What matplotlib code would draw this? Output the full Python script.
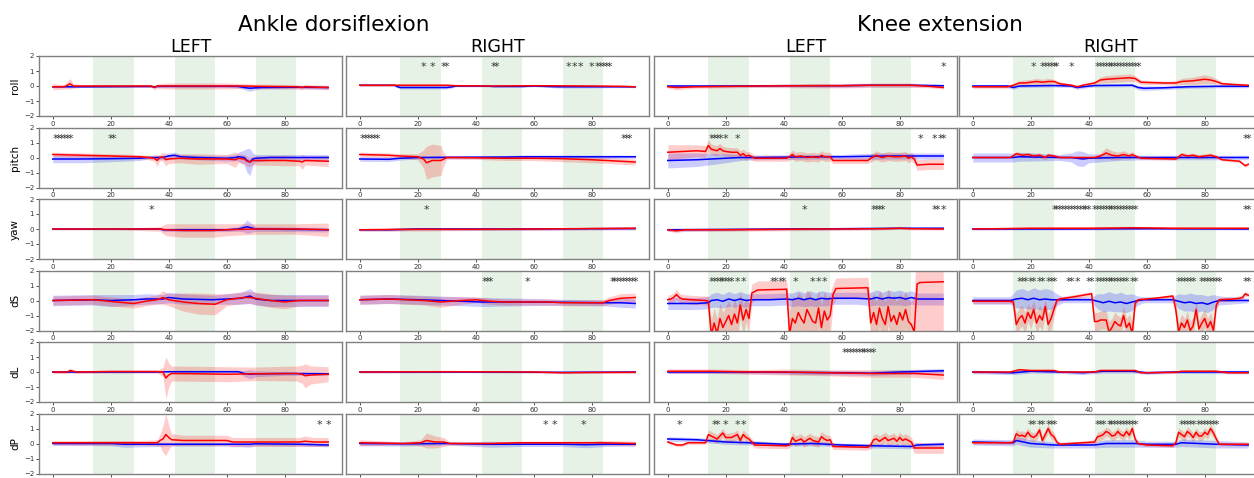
import numpy as np
import matplotlib
matplotlib.use('Agg')
import matplotlib.pyplot as plt

# each series: (frame, mean, sd)
AD_L_ROLL_BLUE = [(0, -0.05, 0.05), (10, -0.05, 0.05), (30, -0.03, 0.05), (34, -0.03, 0.05), (35, -0.06, 0.06),
                  (36, -0.03, 0.05), (40, -0.02, 0.08), (60, -0.02, 0.08), (64, -0.03, 0.1), (66, -0.1, 0.15),
                  (68, -0.15, 0.2), (70, -0.12, 0.12), (72, -0.1, 0.1), (84, -0.08, 0.1), (95, -0.1, 0.1)]
AD_L_ROLL_RED = [(0, -0.05, 0.2), (4, -0.05, 0.15), (5, 0.05, 0.25), (6, 0.15, 0.35), (7, 0.0, 0.15), (10, 0.0, 0.1),
                 (30, 0.0, 0.1), (34, 0.0, 0.1), (35, -0.1, 0.15), (36, 0.0, 0.15), (40, 0.0, 0.2), (60, 0.0, 0.2),
                 (66, 0.0, 0.15), (70, -0.02, 0.15), (84, -0.05, 0.15), (86, -0.1, 0.15), (87, -0.05, 0.15),
                 (95, -0.1, 0.15)]
AD_L_ROLL_STARS = []

AD_R_ROLL_BLUE = [(0, 0.05, 0.06), (12, 0.05, 0.06), (13, -0.05, 0.08), (14, -0.1, 0.1), (30, -0.1, 0.1),
                  (32, -0.05, 0.08), (33, 0.0, 0.05), (44, 0.0, 0.05), (46, -0.03, 0.06), (56, -0.03, 0.06),
                  (60, 0.0, 0.05), (68, -0.05, 0.08), (80, -0.05, 0.08), (86, -0.05, 0.06), (95, -0.05, 0.06)]
AD_R_ROLL_RED = [(0, 0.05, 0.08), (20, 0.05, 0.08), (30, 0.05, 0.08), (33, 0.02, 0.06), (46, 0.0, 0.05),
                 (60, 0.02, 0.05), (80, 0.0, 0.05), (90, -0.02, 0.06), (95, -0.05, 0.06)]
AD_R_ROLL_STARS = [22, 25, 29, 30, 46, 47, 72, 74, 76, 80, 82, 83, 84, 85, 86]

KE_L_ROLL_BLUE = [(0, 0.0, 0.08), (20, 0.0, 0.08), (40, 0.02, 0.08), (60, 0.02, 0.1), (70, 0.05, 0.1),
                  (84, 0.05, 0.1), (95, 0.02, 0.08)]
KE_L_ROLL_RED = [(0, -0.05, 0.1), (3, -0.1, 0.15), (10, -0.05, 0.1), (30, 0.0, 0.1), (50, 0.02, 0.15),
                 (60, 0.02, 0.15), (70, 0.05, 0.15), (84, 0.05, 0.15), (90, -0.02, 0.1), (95, -0.1, 0.1)]
KE_L_ROLL_STARS = [95]

KE_R_ROLL_BLUE = [(0, 0.0, 0.1), (12, 0.0, 0.1), (14, -0.1, 0.12), (16, 0.0, 0.1), (28, 0.03, 0.1), (34, 0.0, 0.1),
                  (36, -0.1, 0.12), (38, -0.05, 0.1), (42, 0.03, 0.1), (55, 0.05, 0.1), (57, -0.1, 0.15),
                  (59, -0.15, 0.15), (66, -0.12, 0.12), (74, -0.05, 0.1), (84, -0.02, 0.1), (95, -0.02, 0.1)]
KE_R_ROLL_RED = [(0, -0.05, 0.1), (12, -0.05, 0.1), (14, 0.05, 0.12), (16, 0.2, 0.15), (18, 0.2, 0.2),
                 (20, 0.25, 0.2), (22, 0.3, 0.2), (24, 0.25, 0.2), (26, 0.3, 0.2), (28, 0.3, 0.15), (30, 0.15, 0.12),
                 (34, 0.05, 0.1), (36, -0.05, 0.1), (38, 0.05, 0.1), (42, 0.2, 0.12), (44, 0.4, 0.2),
                 (46, 0.45, 0.25), (50, 0.5, 0.25), (54, 0.55, 0.25), (56, 0.5, 0.2), (58, 0.25, 0.15),
                 (66, 0.2, 0.12), (70, 0.2, 0.15), (72, 0.3, 0.2), (76, 0.35, 0.25), (80, 0.45, 0.3),
                 (82, 0.4, 0.25), (84, 0.3, 0.2), (86, 0.15, 0.12), (90, 0.1, 0.1), (95, 0.05, 0.1)]
KE_R_ROLL_STARS = [21, 24, 25, 26, 27, 28, 29, 34, 43, 44, 45, 46, 47, 48, 49, 50, 51, 52, 53, 54, 55, 56, 57]

AD_L_PITCH_BLUE = [(0, -0.1, 0.25), (10, -0.1, 0.25), (20, -0.08, 0.2), (30, -0.05, 0.15), (33, 0.0, 0.1),
                   (38, 0.0, 0.15), (40, 0.1, 0.2), (42, 0.15, 0.2), (44, 0.05, 0.15), (50, 0.0, 0.15),
                   (60, -0.05, 0.2), (63, 0.0, 0.2), (64, 0.05, 0.3), (66, 0.0, 0.5), (67, -0.2, 0.8),
                   (68, -0.3, 0.9), (69, -0.1, 0.4), (70, -0.05, 0.25), (75, 0.0, 0.2), (95, 0.0, 0.2)]
AD_L_PITCH_RED = [(0, 0.2, 0.15), (10, 0.15, 0.15), (20, 0.1, 0.15), (30, 0.05, 0.15), (33, 0.0, 0.15),
                  (35, -0.05, 0.2), (36, -0.2, 0.4), (37, 0.0, 0.2), (38, 0.05, 0.3), (39, -0.15, 0.4),
                  (40, -0.1, 0.3), (44, -0.05, 0.3), (50, -0.1, 0.35), (60, -0.1, 0.3), (63, -0.15, 0.5),
                  (64, -0.05, 0.3), (66, -0.1, 0.3), (67, -0.25, 0.35), (68, -0.3, 0.3), (69, -0.2, 0.3),
                  (80, -0.2, 0.35), (85, -0.25, 0.3), (86, -0.3, 0.5), (87, -0.2, 0.3), (95, -0.25, 0.35)]
AD_L_PITCH_STARS = [1, 2, 3, 4, 5, 6, 20, 21]

AD_R_PITCH_BLUE = [(0, -0.1, 0.15), (10, -0.12, 0.15), (14, -0.05, 0.12), (20, 0.0, 0.1), (50, 0.03, 0.1),
                   (58, 0.05, 0.12), (95, 0.05, 0.1)]
AD_R_PITCH_RED = [(0, 0.2, 0.15), (10, 0.15, 0.15), (14, 0.1, 0.15), (20, 0.05, 0.2), (22, -0.1, 0.6),
                  (23, -0.35, 1.1), (25, -0.2, 1.1), (28, -0.2, 1.0), (29, -0.1, 0.4), (30, 0.0, 0.1),
                  (40, -0.02, 0.1), (50, -0.05, 0.15), (60, -0.05, 0.15), (70, -0.08, 0.2), (80, -0.15, 0.2),
                  (90, -0.25, 0.2), (95, -0.3, 0.2)]
AD_R_PITCH_STARS = [1, 2, 3, 4, 5, 6, 91, 92, 93]

KE_L_PITCH_BLUE = [(0, -0.2, 0.5), (10, -0.15, 0.45), (20, -0.05, 0.3), (25, 0.0, 0.2), (30, 0.0, 0.15),
                   (40, 0.02, 0.15), (50, 0.05, 0.15), (60, 0.05, 0.15), (70, 0.08, 0.2), (75, 0.1, 0.2),
                   (95, 0.1, 0.2)]
KE_L_PITCH_RED = [(0, 0.35, 0.5), (5, 0.4, 0.45), (10, 0.45, 0.4), (13, 0.4, 0.4), (14, 0.8, 0.4), (15, 0.55, 0.35),
                  (16, 0.5, 0.35), (17, 0.45, 0.35), (18, 0.6, 0.35), (19, 0.45, 0.3), (20, 0.4, 0.3),
                  (22, 0.35, 0.3), (24, 0.35, 0.3), (25, 0.15, 0.3), (26, 0.25, 0.3), (27, 0.1, 0.3),
                  (28, 0.15, 0.25), (30, -0.05, 0.2), (41, -0.05, 0.2), (42, 0.05, 0.25), (43, 0.2, 0.3),
                  (44, 0.05, 0.3), (46, 0.1, 0.3), (48, 0.0, 0.3), (50, 0.05, 0.3), (52, 0.0, 0.3), (53, 0.15, 0.3),
                  (54, 0.05, 0.3), (56, 0.05, 0.3), (57, -0.2, 0.2), (69, -0.2, 0.2), (70, -0.05, 0.25),
                  (72, 0.15, 0.3), (73, 0.05, 0.3), (74, 0.0, 0.3), (76, 0.1, 0.3), (78, 0.05, 0.3), (80, 0.05, 0.3),
                  (82, 0.1, 0.3), (83, -0.05, 0.3), (84, 0.05, 0.3), (85, -0.1, 0.3), (86, -0.5, 0.35),
                  (90, -0.45, 0.35), (95, -0.45, 0.35)]
KE_L_PITCH_STARS = [15, 16, 17, 18, 20, 24, 87, 92, 94, 95]

KE_R_PITCH_BLUE = [(0, 0.0, 0.3), (14, 0.0, 0.3), (16, 0.05, 0.3), (30, 0.0, 0.2), (34, 0.0, 0.3), (36, -0.05, 0.5),
                   (38, -0.1, 0.5), (40, -0.05, 0.3), (50, 0.0, 0.2), (60, 0.0, 0.15), (80, 0.0, 0.15),
                   (95, 0.0, 0.15)]
KE_R_PITCH_RED = [(0, 0.0, 0.05), (13, 0.0, 0.05), (15, 0.25, 0.15), (17, 0.15, 0.15), (19, 0.2, 0.15),
                  (21, 0.1, 0.15), (23, 0.15, 0.15), (25, 0.0, 0.15), (26, 0.15, 0.15), (28, 0.1, 0.12),
                  (30, 0.0, 0.08), (42, 0.0, 0.08), (44, 0.1, 0.2), (46, 0.3, 0.35), (48, 0.15, 0.3),
                  (50, 0.1, 0.25), (52, 0.2, 0.25), (54, 0.1, 0.2), (55, 0.2, 0.2), (56, 0.1, 0.15),
                  (58, -0.05, 0.08), (70, -0.1, 0.08), (72, 0.2, 0.15), (74, 0.1, 0.15), (76, 0.15, 0.15),
                  (78, 0.05, 0.15), (80, 0.1, 0.15), (82, 0.15, 0.15), (84, 0.05, 0.1), (86, -0.15, 0.08),
                  (92, -0.25, 0.08), (94, -0.55, 0.1), (95, -0.45, 0.1)]
KE_R_PITCH_STARS = [94, 95]

AD_L_YAW_BLUE = [(0, 0.0, 0.05), (30, 0.0, 0.05), (37, 0.0, 0.05), (38, -0.05, 0.1), (40, -0.05, 0.12),
                 (60, -0.05, 0.12), (64, 0.0, 0.15), (66, 0.1, 0.3), (67, 0.15, 0.45), (68, 0.1, 0.35),
                 (70, 0.0, 0.15), (95, -0.05, 0.15)]
AD_L_YAW_RED = [(0, 0.0, 0.05), (20, 0.0, 0.05), (30, 0.0, 0.1), (37, 0.0, 0.15), (39, -0.05, 0.4),
                (45, -0.1, 0.45), (55, -0.1, 0.45), (60, -0.05, 0.4), (70, 0.0, 0.35), (84, 0.0, 0.35),
                (95, -0.05, 0.45)]
AD_L_YAW_STARS = [34]

AD_R_YAW_BLUE = [(0, -0.05, 0.08), (10, -0.05, 0.08), (20, 0.0, 0.08), (40, 0.0, 0.1), (60, 0.0, 0.08),
                 (80, 0.02, 0.08), (95, 0.03, 0.08)]
AD_R_YAW_RED = [(0, -0.05, 0.08), (20, -0.02, 0.12), (40, -0.02, 0.08), (60, 0.0, 0.08), (80, 0.03, 0.08),
                (95, 0.05, 0.1)]
AD_R_YAW_STARS = [23]

KE_L_YAW_BLUE = [(0, -0.05, 0.1), (20, -0.03, 0.08), (40, 0.0, 0.08), (60, 0.02, 0.08), (80, 0.05, 0.08),
                 (95, 0.05, 0.08)]
KE_L_YAW_RED = [(0, -0.05, 0.1), (3, -0.12, 0.12), (6, -0.05, 0.1), (20, -0.05, 0.1), (40, -0.02, 0.1),
                (50, 0.0, 0.1), (60, 0.0, 0.08), (75, 0.02, 0.08), (80, 0.05, 0.08), (84, 0.02, 0.08),
                (95, 0.0, 0.08)]
KE_L_YAW_STARS = [47, 71, 72, 73, 74, 92, 93, 95]

KE_R_YAW_BLUE = [(0, 0.0, 0.06), (30, 0.0, 0.06), (60, 0.02, 0.06), (95, 0.0, 0.06)]
KE_R_YAW_RED = [(0, 0.0, 0.06), (20, 0.05, 0.08), (40, 0.05, 0.1), (55, 0.08, 0.1), (70, 0.05, 0.08),
                (95, 0.05, 0.08)]
KE_R_YAW_STARS = [28, 29, 30, 31, 32, 33, 34, 35, 36, 37, 38, 39, 40, 42, 43, 44, 45, 46, 47, 48, 49, 50, 51, 52,
                  53, 54, 55, 56, 94, 95]

AD_L_DS_BLUE = [(0, 0.0, 0.35), (14, 0.05, 0.35), (20, 0.0, 0.4), (28, 0.05, 0.35), (32, 0.1, 0.35),
                (38, 0.1, 0.3), (40, 0.2, 0.35), (45, 0.1, 0.35), (55, 0.05, 0.3), (60, 0.1, 0.35),
                (65, 0.15, 0.4), (68, 0.3, 0.5), (70, 0.1, 0.4), (75, 0.0, 0.4), (95, 0.0, 0.4)]
AD_L_DS_RED = [(0, 0.0, 0.3), (14, 0.05, 0.3), (22, -0.1, 0.3), (28, -0.2, 0.3), (32, -0.05, 0.3), (36, 0.05, 0.3),
               (38, 0.2, 0.45), (40, 0.05, 0.4), (45, -0.1, 0.6), (50, -0.2, 0.7), (56, -0.25, 0.7),
               (60, 0.05, 0.4), (66, 0.2, 0.4), (68, 0.2, 0.4), (75, 0.0, 0.45), (80, -0.1, 0.45),
               (85, 0.0, 0.35), (95, 0.0, 0.35)]
AD_L_DS_STARS = []

AD_R_DS_BLUE = [(0, 0.05, 0.3), (10, 0.1, 0.3), (20, 0.05, 0.3), (28, 0.0, 0.3), (35, -0.05, 0.3), (42, -0.1, 0.3),
                (56, -0.1, 0.25), (70, -0.12, 0.2), (84, -0.15, 0.2), (90, -0.15, 0.3), (95, -0.2, 0.3)]
AD_R_DS_RED = [(0, 0.05, 0.3), (10, 0.1, 0.3), (22, 0.0, 0.3), (28, -0.1, 0.35), (35, 0.0, 0.25), (40, 0.05, 0.2),
               (45, -0.05, 0.2), (50, -0.1, 0.2), (65, -0.1, 0.2), (70, -0.15, 0.2), (84, -0.15, 0.2),
               (86, 0.0, 0.25), (90, 0.15, 0.3), (95, 0.2, 0.3)]
AD_R_DS_STARS = [43, 44, 45, 58, 87, 88, 89, 90, 91, 92, 93, 94, 95]

KE_L_DS_BLUE = [(0, -0.2, 0.4), (10, -0.2, 0.4), (14, -0.15, 0.4), (15, 0.0, 0.45), (17, 0.05, 0.5),
                (19, -0.05, 0.45), (21, 0.1, 0.5), (23, 0.0, 0.45), (25, 0.1, 0.5), (27, 0.0, 0.45),
                (29, 0.05, 0.4), (35, 0.05, 0.4), (41, 0.1, 0.4), (43, 0.05, 0.45), (45, 0.15, 0.5),
                (47, 0.05, 0.45), (49, 0.15, 0.5), (51, 0.05, 0.45), (53, 0.15, 0.5), (55, 0.1, 0.45),
                (57, 0.15, 0.4), (65, 0.15, 0.4), (70, 0.1, 0.45), (72, 0.2, 0.5), (74, 0.1, 0.45), (76, 0.2, 0.5),
                (78, 0.15, 0.45), (80, 0.2, 0.5), (82, 0.1, 0.45), (84, 0.2, 0.45), (86, 0.1, 0.4), (95, 0.1, 0.4)]
KE_L_DS_RED = [(0, 0.05, 0.3), (1, 0.1, 0.3), (2, 0.2, 0.3), (3, 0.4, 0.35), (4, 0.2, 0.3), (5, 0.1, 0.3),
               (8, 0.05, 0.3), (13, 0.0, 0.3), (14, -0.05, 0.35),
               (15, -2.3, 1.0), (16, -1.5, 1.0), (17, -2.2, 1.0), (18, -1.2, 1.0), (19, -1.8, 1.0), (20, -1.4, 1.0),
               (21, -1.0, 1.0), (22, -1.6, 1.0), (23, -0.9, 1.0), (24, -1.5, 1.0), (25, -0.3, 0.8),
               (26, -1.3, 1.0), (27, -0.6, 0.8), (28, -1.2, 1.0),
               (29, 0.5, 0.6), (30, 0.6, 0.6), (31, 0.7, 0.6), (41, 0.75, 0.6),
               (42, -2.2, 1.5), (43, -1.2, 1.5), (44, -1.5, 1.5), (45, -0.8, 1.4), (46, -1.2, 1.5), (47, -1.5, 1.5),
               (48, -0.6, 1.3), (49, -1.0, 1.5), (50, -1.4, 1.5), (51, -1.5, 1.5), (52, -0.5, 1.2),
               (53, -1.8, 1.5), (54, -0.7, 1.3), (55, -1.3, 1.5), (56, -1.0, 1.4),
               (57, 0.4, 0.7), (58, 0.8, 0.7), (69, 0.85, 0.7),
               (70, -1.5, 1.5), (71, -0.8, 1.3), (72, -1.6, 1.5), (73, -0.5, 1.2), (74, -1.2, 1.5), (75, -1.6, 1.5),
               (76, -0.4, 1.2), (77, -1.4, 1.5), (78, -1.0, 1.4), (79, -1.6, 1.5), (80, -0.8, 1.3),
               (81, -1.3, 1.5), (82, -0.6, 1.2), (83, -1.4, 1.5), (84, -1.6, 1.5), (85, -2.1, 2.5),
               (86, 1.1, 3.5), (87, 1.2, 3.5), (95, 1.25, 3.5)]
KE_L_DS_STARS = [15, 16, 17, 18, 19, 20, 21, 22, 24, 26, 36, 37, 39, 40, 44, 50, 52, 54]

KE_R_DS_BLUE = [(0, 0.0, 0.25), (13, 0.0, 0.25), (15, 0.1, 0.6), (17, 0.15, 0.65), (19, 0.05, 0.6), (21, 0.15, 0.7),
                (23, 0.05, 0.65), (25, 0.1, 0.7), (27, 0.05, 0.65), (29, 0.05, 0.4), (31, 0.05, 0.2),
                (41, 0.05, 0.2), (43, -0.05, 0.5), (45, -0.15, 0.6), (47, -0.05, 0.65), (49, -0.15, 0.6),
                (51, -0.1, 0.65), (53, -0.2, 0.6), (55, -0.1, 0.55), (57, 0.0, 0.3), (59, 0.05, 0.2),
                (69, 0.05, 0.2), (71, -0.05, 0.5), (73, -0.15, 0.55), (75, -0.1, 0.6), (77, -0.2, 0.6),
                (79, -0.15, 0.55), (81, -0.25, 0.55), (83, -0.1, 0.5), (85, 0.0, 0.3), (95, 0.0, 0.15)]
KE_R_DS_RED = [(0, -0.05, 0.15), (13, -0.05, 0.15), (14, -0.1, 0.2),
               (15, -1.6, 0.7), (16, -1.2, 0.7), (17, -1.0, 0.7), (18, -1.5, 0.7), (19, -0.8, 0.6), (20, -1.2, 0.7),
               (21, -0.6, 0.6), (22, -1.5, 0.7), (23, -1.0, 0.7), (24, -1.3, 0.7), (25, -0.4, 0.5),
               (26, -1.6, 0.7), (27, -1.2, 0.7), (28, -0.6, 0.5),
               (29, 0.0, 0.2), (30, 0.1, 0.15), (35, 0.25, 0.15), (41, 0.45, 0.15),
               (42, -1.4, 0.6), (43, -1.4, 0.6), (44, -1.3, 0.6), (45, -1.3, 0.6), (46, -1.3, 0.6), (47, -2.1, 0.7),
               (48, -1.8, 0.6), (49, -1.4, 0.6), (50, -1.6, 0.6), (51, -1.7, 0.6), (52, -1.0, 0.6),
               (53, -1.8, 0.6), (54, -1.5, 0.6), (55, -2.2, 0.7),
               (56, -0.2, 0.2), (57, 0.05, 0.1), (63, 0.15, 0.1), (69, 0.3, 0.1),
               (70, -0.6, 0.5), (71, -2.1, 0.6), (72, -1.5, 0.6), (73, -1.8, 0.6), (74, -1.3, 0.6), (75, -2.0, 0.6),
               (76, -1.7, 0.6), (77, -0.6, 0.5), (78, -1.9, 0.6), (79, -1.5, 0.6), (80, -1.2, 0.6),
               (81, -1.8, 0.6), (82, -1.4, 0.6), (83, -2.0, 0.6),
               (84, -0.3, 0.3), (85, 0.05, 0.15), (90, 0.1, 0.15), (92, 0.15, 0.15), (93, 0.2, 0.15),
               (94, 0.45, 0.15), (95, 0.35, 0.15)]
KE_R_DS_STARS = [16, 17, 18, 20, 21, 23, 24, 26, 27, 28, 33, 34, 36, 40, 41, 43, 44, 45, 46, 47, 48, 49, 50, 51,
                 52, 53, 55, 56, 71, 72, 73, 74, 75, 76, 79, 80, 81, 82, 83, 84, 85, 94, 95]

AD_L_DL_BLUE = [(0, 0.0, 0.05), (35, 0.0, 0.05), (40, 0.02, 0.05), (64, 0.02, 0.05), (66, -0.1, 0.2),
                (68, -0.15, 0.3), (70, -0.12, 0.2), (80, -0.1, 0.12), (95, -0.12, 0.1)]
AD_L_DL_RED = [(0, 0.0, 0.1), (5, 0.0, 0.1), (6, 0.1, 0.15), (8, 0.0, 0.1), (20, 0.03, 0.1), (36, 0.03, 0.1),
               (38, 0.0, 0.3), (39, -0.4, 1.4), (40, -0.2, 0.8), (41, -0.1, 0.5), (50, -0.12, 0.5),
               (60, -0.15, 0.5), (70, -0.12, 0.45), (84, -0.1, 0.5), (86, -0.15, 0.6), (87, -0.25, 0.8),
               (89, -0.2, 0.6), (95, -0.15, 0.5)]
AD_L_DL_STARS = []

AD_R_DL_BLUE = [(0, 0.0, 0.06), (40, 0.0, 0.05), (70, -0.02, 0.06), (95, 0.0, 0.06)]
AD_R_DL_RED = [(0, 0.0, 0.06), (30, 0.02, 0.05), (60, 0.0, 0.05), (70, -0.05, 0.06), (80, -0.03, 0.06),
               (95, -0.02, 0.06)]
AD_R_DL_STARS = []

KE_L_DL_BLUE = [(0, 0.0, 0.1), (20, 0.0, 0.1), (40, -0.02, 0.12), (60, -0.05, 0.15), (70, -0.08, 0.15),
                (80, 0.0, 0.15), (95, 0.08, 0.15)]
KE_L_DL_RED = [(0, 0.05, 0.15), (15, 0.05, 0.15), (30, 0.0, 0.15), (40, 0.0, 0.2), (55, -0.05, 0.2),
               (70, -0.1, 0.25), (85, -0.1, 0.25), (95, -0.2, 0.3)]
KE_L_DL_STARS = [61, 62, 63, 64, 65, 66, 67, 68, 69, 70, 71]

KE_R_DL_BLUE = [(0, 0.0, 0.12), (14, -0.05, 0.12), (20, 0.05, 0.12), (30, 0.0, 0.1), (38, -0.05, 0.12),
                (45, 0.05, 0.12), (55, 0.05, 0.12), (60, -0.05, 0.1), (70, 0.0, 0.1), (95, 0.0, 0.12)]
KE_R_DL_RED = [(0, 0.0, 0.08), (13, 0.0, 0.08), (16, 0.15, 0.1), (20, 0.1, 0.08), (28, 0.1, 0.08), (30, 0.0, 0.06),
               (42, 0.0, 0.06), (44, 0.1, 0.08), (56, 0.1, 0.08), (58, -0.05, 0.06), (70, -0.02, 0.06),
               (72, 0.05, 0.08), (84, 0.05, 0.08), (88, -0.05, 0.06), (95, -0.05, 0.06)]
KE_R_DL_STARS = []

AD_L_DP_BLUE = [(0, 0.0, 0.12), (20, 0.0, 0.15), (25, -0.05, 0.2), (35, -0.05, 0.15), (40, -0.05, 0.12),
                (60, -0.05, 0.12), (68, -0.05, 0.2), (70, -0.02, 0.12), (85, -0.05, 0.12), (95, -0.1, 0.12)]
AD_L_DP_RED = [(0, 0.05, 0.15), (30, 0.05, 0.15), (36, 0.05, 0.2), (37, 0.2, 0.4), (38, 0.3, 0.9), (39, 0.6, 1.4),
               (40, 0.4, 0.8), (41, 0.25, 0.4), (45, 0.2, 0.35), (60, 0.2, 0.35), (62, 0.1, 0.3), (85, 0.1, 0.3),
               (87, 0.15, 0.35), (90, 0.1, 0.3), (95, 0.1, 0.3)]
AD_L_DP_STARS = [92, 95]

AD_R_DP_BLUE = [(0, 0.0, 0.15), (15, -0.02, 0.15), (30, 0.0, 0.1), (45, -0.05, 0.2), (55, -0.05, 0.15),
                (70, -0.05, 0.15), (78, -0.08, 0.2), (85, -0.05, 0.15), (95, -0.05, 0.12)]
AD_R_DP_RED = [(0, 0.05, 0.2), (15, 0.0, 0.1), (21, 0.05, 0.2), (23, 0.2, 0.5), (26, 0.1, 0.4), (29, 0.1, 0.3),
               (31, 0.0, 0.1), (45, 0.0, 0.1), (55, 0.05, 0.1), (80, 0.05, 0.1), (83, 0.05, 0.15),
               (95, 0.0, 0.15)]
AD_R_DP_STARS = [64, 67, 77]

KE_L_DP_BLUE = [(0, 0.3, 0.15), (10, 0.25, 0.15), (20, 0.1, 0.15), (28, 0.05, 0.15), (40, -0.05, 0.12),
                (50, 0.0, 0.15), (60, -0.1, 0.12), (70, -0.15, 0.15), (84, -0.2, 0.15), (86, -0.1, 0.15),
                (95, -0.05, 0.15)]
KE_L_DP_RED = [(0, 0.1, 0.1), (3, -0.1, 0.1), (5, -0.1, 0.1), (7, 0.05, 0.1), (13, 0.05, 0.1),
               (14, 0.6, 0.3), (15, 0.5, 0.3), (16, 0.4, 0.3), (17, 0.3, 0.3), (19, 0.7, 0.3), (20, 0.4, 0.3),
               (22, 0.4, 0.3), (24, 0.6, 0.3), (25, 0.2, 0.3), (26, 0.6, 0.3), (27, 0.4, 0.3), (28, 0.3, 0.25),
               (30, -0.1, 0.2), (41, -0.15, 0.2), (42, -0.1, 0.2),
               (43, 0.4, 0.35), (44, 0.15, 0.35), (46, 0.3, 0.35), (47, 0.1, 0.35), (49, 0.35, 0.35),
               (50, 0.2, 0.35), (52, 0.1, 0.35), (53, 0.45, 0.35), (54, 0.3, 0.35), (55, 0.2, 0.35),
               (56, 0.25, 0.3), (57, -0.2, 0.2), (69, -0.25, 0.2), (70, -0.1, 0.25),
               (71, 0.25, 0.35), (72, 0.3, 0.35), (73, 0.15, 0.35), (75, 0.4, 0.35), (76, 0.2, 0.35),
               (78, 0.35, 0.35), (79, 0.15, 0.35), (80, 0.4, 0.35), (81, 0.2, 0.35), (82, 0.3, 0.35),
               (84, 0.1, 0.3), (85, -0.3, 0.35), (95, -0.3, 0.35)]
KE_L_DP_STARS = [4, 16, 17, 20, 24, 26]

KE_R_DP_BLUE = [(0, 0.1, 0.2), (14, 0.05, 0.2), (15, 0.2, 0.25), (20, 0.0, 0.25), (28, -0.1, 0.2), (42, -0.1, 0.2),
                (46, 0.0, 0.25), (56, 0.0, 0.25), (60, -0.05, 0.2), (70, -0.05, 0.2), (72, 0.05, 0.25),
                (84, -0.05, 0.25), (95, -0.1, 0.2)]
KE_R_DP_RED = [(0, 0.05, 0.1), (13, 0.05, 0.1), (14, 0.1, 0.15),
               (15, 0.65, 0.3), (16, 0.5, 0.3), (17, 0.55, 0.3), (18, 0.45, 0.3), (19, 0.75, 0.3), (20, 0.5, 0.3),
               (21, 0.4, 0.3), (22, 0.55, 0.3), (23, 0.9, 0.3), (24, 0.2, 0.3), (25, 0.6, 0.3), (26, 1.0, 0.3),
               (27, 0.6, 0.3), (28, 0.45, 0.3), (29, 0.1, 0.15), (30, -0.05, 0.1), (42, 0.1, 0.15),
               (43, 0.45, 0.3), (44, 0.5, 0.3), (45, 0.6, 0.3), (46, 0.8, 0.3), (47, 0.7, 0.3), (48, 0.5, 0.3),
               (49, 0.55, 0.3), (50, 0.8, 0.3), (51, 0.6, 0.3), (52, 0.5, 0.3), (53, 0.8, 0.3), (54, 0.55, 0.3),
               (55, 1.0, 0.3), (56, 0.3, 0.2), (57, 0.0, 0.1), (60, -0.1, 0.1), (69, -0.15, 0.1), (70, 0.05, 0.15),
               (71, 0.75, 0.3), (72, 0.6, 0.3), (73, 0.45, 0.3), (74, 0.8, 0.3), (75, 0.65, 0.3), (76, 0.4, 0.3),
               (77, 0.75, 0.3), (78, 0.5, 0.3), (79, 0.5, 0.3), (80, 0.75, 0.3), (81, 0.6, 0.3), (82, 1.0, 0.3),
               (83, 0.7, 0.3), (84, 0.3, 0.2), (85, -0.05, 0.1), (95, -0.05, 0.1)]
KE_R_DP_STARS = [20, 21, 23, 24, 26, 27, 28, 43, 44, 45, 47, 48, 49, 50, 51, 52, 53, 54, 55, 56,
                 72, 73, 74, 75, 76, 78, 79, 80, 81, 82, 83, 84]

ROW_LABELS = ['roll', 'pitch', 'yaw', 'dS', 'dL', 'dP']
COL_LABELS = ['LEFT', 'RIGHT', 'LEFT', 'RIGHT']
GROUP_TITLES = ['Ankle dorsiflexion', 'Knee extension']
GREEN_SPANS = [(14, 28), (42, 56), (70, 84)]

panels = [
    [(AD_L_ROLL_BLUE, AD_L_ROLL_RED, AD_L_ROLL_STARS), (AD_R_ROLL_BLUE, AD_R_ROLL_RED, AD_R_ROLL_STARS),
     (KE_L_ROLL_BLUE, KE_L_ROLL_RED, KE_L_ROLL_STARS), (KE_R_ROLL_BLUE, KE_R_ROLL_RED, KE_R_ROLL_STARS)],
    [(AD_L_PITCH_BLUE, AD_L_PITCH_RED, AD_L_PITCH_STARS), (AD_R_PITCH_BLUE, AD_R_PITCH_RED, AD_R_PITCH_STARS),
     (KE_L_PITCH_BLUE, KE_L_PITCH_RED, KE_L_PITCH_STARS), (KE_R_PITCH_BLUE, KE_R_PITCH_RED, KE_R_PITCH_STARS)],
    [(AD_L_YAW_BLUE, AD_L_YAW_RED, AD_L_YAW_STARS), (AD_R_YAW_BLUE, AD_R_YAW_RED, AD_R_YAW_STARS),
     (KE_L_YAW_BLUE, KE_L_YAW_RED, KE_L_YAW_STARS), (KE_R_YAW_BLUE, KE_R_YAW_RED, KE_R_YAW_STARS)],
    [(AD_L_DS_BLUE, AD_L_DS_RED, AD_L_DS_STARS), (AD_R_DS_BLUE, AD_R_DS_RED, AD_R_DS_STARS),
     (KE_L_DS_BLUE, KE_L_DS_RED, KE_L_DS_STARS), (KE_R_DS_BLUE, KE_R_DS_RED, KE_R_DS_STARS)],
    [(AD_L_DL_BLUE, AD_L_DL_RED, AD_L_DL_STARS), (AD_R_DL_BLUE, AD_R_DL_RED, AD_R_DL_STARS),
     (KE_L_DL_BLUE, KE_L_DL_RED, KE_L_DL_STARS), (KE_R_DL_BLUE, KE_R_DL_RED, KE_R_DL_STARS)],
    [(AD_L_DP_BLUE, AD_L_DP_RED, AD_L_DP_STARS), (AD_R_DP_BLUE, AD_R_DP_RED, AD_R_DP_STARS),
     (KE_L_DP_BLUE, KE_L_DP_RED, KE_L_DP_STARS), (KE_R_DP_BLUE, KE_R_DP_RED, KE_R_DP_STARS)],
]

W, H = 1254, 478
col_left = [39, 346, 654, 959]
row_top = [56, 127.5, 199, 270.5, 342, 413.5]
ax_w, ax_h = 303, 60


def split(pts):
    arr = np.array(pts, dtype=float)
    return arr[:, 0], arr[:, 1], arr[:, 2]


fig = plt.figure(figsize=(W / 100, H / 100), dpi=100)

for r in range(6):
    for c in range(4):
        blue, red, stars = panels[r][c]
        ax = fig.add_axes([col_left[c] / W, 1 - (row_top[r] + ax_h) / H, ax_w / W, ax_h / H])
        for a, b in GREEN_SPANS:
            ax.axvspan(a, b, color='green', alpha=0.1, lw=0)
        xb, mb, sb = split(blue)
        xr, mr, sr = split(red)
        ax.fill_between(xb, mb - sb, mb + sb, color='blue', alpha=0.2, lw=0)
        ax.fill_between(xr, mr - sr, mr + sr, color='red', alpha=0.2, lw=0)
        ax.plot(xb, mb, color='blue', lw=1.1)
        ax.plot(xr, mr, color='red', lw=1.1)
        for s in stars:
            ax.text(s, 1.25, '*', ha='center', va='center', fontsize=8, color='#3a3a3a')
        ax.set_xlim(-4.75, 99.75)
        ax.set_ylim(-2, 2)
        ax.set_xticks([0, 20, 40, 60, 80])
        ax.set_yticks([-2, -1, 0, 1, 2])
        ax.tick_params(labelsize=5, length=2, width=0.6, pad=1.5, colors='#333333')
        if c > 0:
            ax.tick_params(labelleft=False, left=False)
        if r == 5:
            # the bottom row labels fall outside the canvas in the original
            ax.tick_params(labelbottom=False)
        for sp in ax.spines.values():
            sp.set_edgecolor('#808080')
            sp.set_linewidth(1.0)
        if c == 0:
            fig.text(15 / W, 1 - (row_top[r] + ax_h / 2) / H, ROW_LABELS[r], rotation=90,
                     ha='center', va='center', fontsize=7.5)

for c in range(4):
    fig.text((col_left[c] + ax_w / 2) / W, 1 - 51.5 / H, COL_LABELS[c], ha='center', va='baseline', fontsize=12.6)

fig.text(334 / W, 1 - 30.7 / H, GROUP_TITLES[0], ha='center', va='baseline', fontsize=15.5)
fig.text(940 / W, 1 - 30.7 / H, GROUP_TITLES[1], ha='center', va='baseline', fontsize=15.5)

fig.savefig('out.png', dpi=100)
